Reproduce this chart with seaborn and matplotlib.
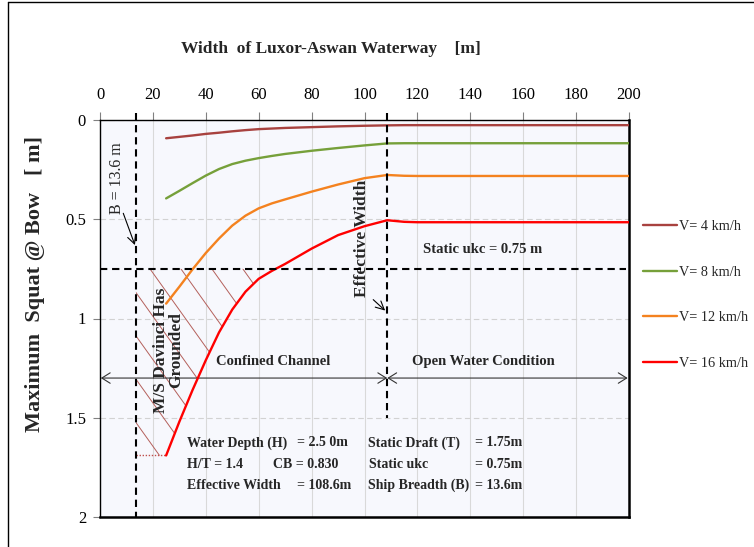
import numpy as np
import pandas as pd
import matplotlib
matplotlib.use("Agg")
import matplotlib.pyplot as plt
import seaborn as sns
from matplotlib.patches import Polygon
from matplotlib.lines import Line2D

# ---------------- data ----------------
width_m = [25, 30, 35, 40, 45, 50, 55, 60, 65, 70, 80, 90, 100, 108.6, 115, 120, 140, 160, 180, 200]
squat_v4 = [0.092, 0.085, 0.078, 0.070, 0.064, 0.057, 0.051, 0.046, 0.043, 0.040, 0.036, 0.032, 0.029,
            0.027, 0.026, 0.026, 0.026, 0.026, 0.026, 0.026]
squat_v8 = [0.395, 0.357, 0.318, 0.280, 0.247, 0.222, 0.205, 0.192, 0.181, 0.171, 0.155, 0.141, 0.128,
            0.118, 0.117, 0.117, 0.117, 0.117, 0.117, 0.117]
squat_v12 = [0.925, 0.840, 0.752, 0.670, 0.597, 0.532, 0.482, 0.445, 0.420, 0.400, 0.361, 0.325, 0.293,
             0.277, 0.281, 0.282, 0.282, 0.282, 0.282, 0.282]
squat_v16 = [1.690, 1.520, 1.360, 1.210, 1.070, 0.955, 0.865, 0.800, 0.760, 0.725, 0.648, 0.580, 0.535,
             0.505, 0.513, 0.515, 0.515, 0.515, 0.515, 0.515]
series_labels = ["V= 4 km/h", "V= 8 km/h", "V= 12 km/h", "V= 16 km/h"]
series_colors = ["#A8423F", "#76A03A", "#F4821F", "#FF0000"]

x_ticks = [0, 20, 40, 60, 80, 100, 120, 140, 160, 180, 200]
y_ticks = [0, 0.5, 1, 1.5, 2]
y_tick_labels = ["0", "0.5", "1", "1.5", "2"]

ship_breadth = 13.6
effective_width = 108.6
static_ukc = 0.75
arrow_level = 1.3

# ---------------- figure ----------------
sns.set_theme(style="white")
plt.rcParams["font.family"] = ["Liberation Serif", "DejaVu Serif"]

W, H = 754, 547
fig = plt.figure(figsize=(W / 100, H / 100), dpi=100)
fig.patch.set_facecolor("white")
ax = fig.add_axes([100 / W, 1 - 517 / H, 529 / W, 397 / H])
ax.set_facecolor("#F7F8FD")

frames = []
for lab, ys in zip(series_labels, [squat_v4, squat_v8, squat_v12, squat_v16]):
    frames.append(pd.DataFrame({"Width": width_m, "Squat": ys, "Speed": lab}))
df = pd.concat(frames, ignore_index=True)

sns.lineplot(data=df, x="Width", y="Squat", hue="Speed", hue_order=series_labels,
             palette=dict(zip(series_labels, series_colors)), estimator=None,
             sort=False, lw=1.7, ax=ax, zorder=4)

# ---- hatched grounding region ----
wx = np.array(width_m)
wy = np.array(squat_v16)
mono = wx <= 100
x_cross = np.interp(static_ukc, wy[mono][::-1], wx[mono][::-1])
sel = wy > static_ukc
verts = [(ship_breadth, static_ukc), (x_cross, static_ukc)]
verts += list(zip(wx[sel][::-1], wy[sel][::-1]))
verts += [(ship_breadth, wy[0])]
poly = Polygon(verts, closed=True, facecolor="none", edgecolor="none")
ax.add_patch(poly)
slope = 1.4 * (529 / 200) / (397 / 2)
for k in range(-9, 6):
    x0 = 18.9 + 11.7 * k
    xs = np.array([x0 - 80, x0 + 80])
    ys = static_ukc + slope * (xs - x0)
    ln, = ax.plot(xs, ys, color="#B4605B", lw=0.7, zorder=3)
    ln.set_clip_path(poly)
ax.plot([ship_breadth, wx[0]], [wy[0], wy[0]], color="#C0504D", lw=1.0, ls=(0, (1, 1.2)), zorder=3)

# ---- reference lines ----
dash = (0, (3.5, 2.3))
ax.vlines(ship_breadth, -0.035, 2.0, colors="black", lw=1.5, linestyles=[dash], clip_on=False, zorder=5)
ax.vlines(effective_width, -0.035, 1.5, colors="black", lw=1.5, linestyles=[dash], clip_on=False, zorder=5)
ax.hlines(static_ukc, 0, 199, colors="black", lw=1.5, linestyles=[dash], zorder=5)

aprops = dict(arrowstyle="<->,head_length=0.4,head_width=0.25", color="#333333", lw=0.8,
              shrinkA=0, shrinkB=0, mutation_scale=15)
ax.annotate("", xy=(0.3, arrow_level), xytext=(effective_width, arrow_level), arrowprops=aprops)
ax.annotate("", xy=(effective_width, arrow_level), xytext=(199.5, arrow_level), arrowprops=aprops)

sprops = dict(arrowstyle="->,head_length=0.5,head_width=0.25", color="black", lw=0.8,
              shrinkA=0, shrinkB=0, mutation_scale=12)
ax.annotate("", xy=(13.2, 0.63), xytext=(8.8, 0.47), arrowprops=sprops)
ax.annotate("", xy=(107.8, 0.96), xytext=(103.3, 0.905), arrowprops=sprops)

# ---- texts ----
ax.text(6.6, 0.293, "B = 13.6 m", rotation=90, ha="center", va="center", fontsize=11.5)
ax.text(99, 0.595, "Effective Width", rotation=90, ha="center", va="center", fontsize=12.5,
        fontweight="bold")
ax.text(25.8, 1.159, "M/S Davinci Has\nGrounded", rotation=90, ha="center", va="center",
        fontsize=12.5, fontweight="bold", linespacing=0.95, multialignment="center")
ax.text(65.5, 1.217, "Confined Channel", ha="center", va="center", fontsize=10.5, fontweight="bold")
ax.text(145, 1.217, "Open Water Condition", ha="center", va="center", fontsize=10.5, fontweight="bold")
ax.text(144.6, 0.65, "Static ukc = 0.75 m", ha="center", va="center", fontsize=10.5, fontweight="bold")

info_rows = [1.626, 1.735, 1.839]
info = [
    (33, info_rows[0], "Water Depth (H)"), (74.3, info_rows[0], "= 2.5 0m"),
    (101.3, info_rows[0], "Static Draft (T)"), (141.8, info_rows[0], "= 1.75m"),
    (33, info_rows[1], "H/T = 1.4"), (65.4, info_rows[1], "CB = 0.830"),
    (101.8, info_rows[1], "Static ukc"), (141.8, info_rows[1], "= 0.75m"),
    (33, info_rows[2], "Effective Width"), (74.3, info_rows[2], "= 108.6m"),
    (101.3, info_rows[2], "Ship Breadth (B)"), (141.8, info_rows[2], "= 13.6m"),
]
for x, y, s in info:
    ax.text(x, y, s, ha="left", va="center", fontsize=10, fontweight="bold", zorder=6)

# ---- axes styling ----
ax.set_xlim(0, 200)
ax.set_ylim(2, 0)
ax.set_xticks(x_ticks)
ax.set_yticks(y_ticks)
ax.set_yticklabels(y_tick_labels)
ax.xaxis.tick_top()
ax.xaxis.set_label_position("top")
ax.tick_params(axis="x", top=True, bottom=False, length=6, width=0.8, color="#808080", pad=6,
               labelsize=12, labelcolor="black")
ax.tick_params(axis="y", left=True, length=5, width=0.8, color="#808080", pad=5, labelsize=12,
               labelcolor="black")
ax.set_axisbelow(True)
ax.xaxis.grid(True, color="#D9D9D9", lw=0.8, ls="-")
ax.yaxis.grid(True, color="#D2D2D2", lw=0.8, ls=(0, (5, 3)))
for side in ["left", "top"]:
    ax.spines[side].set_color("black")
    ax.spines[side].set_linewidth(1.0)
for side in ["right", "bottom"]:
    ax.spines[side].set_color("black")
    ax.spines[side].set_linewidth(1.8)
    ax.spines[side].set_visible(True)

ax.set_xlabel("Width  of Luxor-Aswan Waterway    [m]", fontsize=12.5, fontweight="bold")
ax.xaxis.set_label_coords((331 - 100) / 529, (517 - 53) / 397)
ax.set_ylabel("Maximum  Squat @ Bow   [ m]", fontsize=16, fontweight="bold")
ax.yaxis.set_label_coords((45 - 100) / 529, (517 - 284) / 397)

handles, labels = ax.get_legend_handles_labels()
ax.legend(handles, labels, loc="center left", bbox_to_anchor=(643 / W, 1 - 295 / H),
          bbox_transform=fig.transFigure, frameon=False, labelspacing=2.3, handlelength=2.35,
          handletextpad=0.15, borderpad=0, borderaxespad=0, fontsize=10.3)

# figure frame (left and top edges)
fig.add_artist(Line2D([8 / W, 8 / W], [0, 1 - 2 / H], color="black", lw=1.0, transform=fig.transFigure))
fig.add_artist(Line2D([8 / W, 1], [1 - 2 / H, 1 - 2 / H], color="black", lw=1.0, transform=fig.transFigure))

fig.savefig("out.png", dpi=100)
